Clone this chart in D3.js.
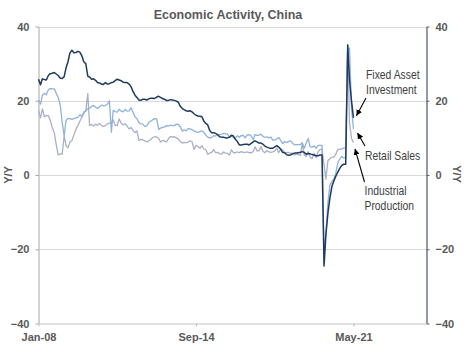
<!DOCTYPE html>
<html><head><meta charset="utf-8">
<script src="https://cdn.jsdelivr.net/npm/d3@7"></script>
<style>body{margin:0;background:#fff} svg{display:block}</style>
</head><body><svg id="c" width="474" height="355"></svg>
<script>
// Monthly Y/Y %, Jan 2008 – May 2021
const startMonth = "2008-01-01";
const fixedAsset = [
 25.8,24.3,25.9,25.7,25.6,26.8,27.3,27.4,27.6,27.2,26.8,26.1,
 26.0,26.5,28.8,30.5,32.9,33.6,32.9,33.0,33.3,33.1,32.1,30.5,
 30.0,26.6,26.4,25.8,25.9,25.5,24.9,24.8,24.5,24.4,24.9,24.5,
 24.6,24.9,25.0,25.4,25.8,25.6,25.4,25.0,24.9,24.9,24.5,23.8,
 22.5,21.5,20.9,20.2,20.1,20.4,20.4,20.2,20.5,20.7,20.7,20.6,
 21.0,21.2,20.9,20.6,20.4,20.1,20.1,20.3,20.2,20.1,19.9,19.6,
 18.5,17.9,17.6,17.3,17.2,17.3,17.0,16.5,16.1,15.9,15.8,15.7,
 14.5,13.9,13.5,12.0,11.4,11.4,11.2,10.9,10.3,10.2,10.2,10.0,
 10.0,10.2,10.7,10.5,9.6,9.0,8.1,8.1,8.2,8.3,8.3,8.1,
 8.5,8.9,9.2,8.9,8.6,8.6,8.3,7.8,7.5,7.3,7.2,7.2,
 7.6,7.9,7.5,7.0,6.1,6.0,5.5,5.3,5.4,5.7,5.9,5.9,
 6.0,6.1,6.3,6.1,5.6,5.8,5.7,5.5,5.4,5.2,5.2,5.4,
 5.4,-24.5,-16.1,-10.3,-6.3,-3.1,-1.6,-0.3,0.8,1.8,2.6,2.9,
 2.9,35.0,25.6,19.9,15.4];
const retailSales = [
 20.2,19.1,21.5,22.0,21.6,23.0,23.3,23.2,23.2,22.0,20.8,19.0,
 14.2,10.6,14.7,15.2,15.2,15.0,15.2,15.4,15.5,16.2,15.8,17.0,
 17.2,17.9,18.0,18.5,18.7,18.3,17.9,18.4,18.8,18.6,18.7,19.1,
 20.0,11.5,17.4,17.1,16.9,17.7,17.2,17.0,17.7,17.2,17.3,18.1,
 16.9,15.6,15.2,14.1,13.8,13.7,13.1,13.2,14.2,14.5,14.9,15.2,
 15.1,12.3,12.6,12.8,12.9,13.3,13.2,13.4,13.3,13.3,13.7,13.6,
 13.0,11.8,12.2,11.9,12.5,12.4,12.2,11.9,11.6,11.5,11.7,11.9,
 11.5,10.7,10.2,10.0,10.1,10.6,10.5,10.8,10.9,11.0,11.2,11.1,
 11.0,10.2,10.5,10.1,10.0,10.6,10.2,10.6,10.7,10.0,10.8,10.9,
 10.5,9.5,10.9,10.7,10.7,11.0,10.4,10.1,10.3,10.0,10.2,9.4,
 9.4,9.7,10.1,9.4,8.5,9.0,8.8,9.0,9.2,8.6,8.1,8.2,
 8.2,8.2,8.7,7.2,8.6,9.8,7.6,7.5,7.8,7.2,8.0,8.0,
 8.0,-20.5,-15.8,-7.5,-2.8,-1.8,-1.1,0.5,3.3,4.3,5.0,4.6,
 4.6,33.8,34.2,17.7,12.4];
const industrialProduction = [
 17.4,15.4,17.8,15.7,16.0,16.0,14.7,12.8,11.4,8.2,5.4,5.7,
 5.6,10.6,8.0,7.3,8.9,9.3,10.8,12.3,13.3,14.5,15.6,16.5,
 17.4,21.9,13.3,13.6,13.2,13.7,13.4,13.9,13.3,13.1,13.3,13.8,
 14.0,14.1,14.8,13.4,13.3,15.1,14.0,13.5,13.8,13.2,12.4,12.8,
 12.0,11.4,11.9,9.3,9.6,9.5,9.2,8.9,9.2,9.6,10.1,10.3,
 10.2,9.9,8.9,9.3,9.2,8.9,9.7,10.4,10.2,10.3,10.0,9.7,
 9.0,8.6,8.8,8.7,8.8,9.2,9.0,6.9,8.0,7.7,7.2,7.9,
 7.0,6.8,5.6,5.9,6.1,6.8,6.0,6.1,5.7,5.6,6.2,5.9,
 5.8,5.4,6.8,6.0,6.0,6.2,6.0,6.3,6.1,6.1,6.2,6.0,
 6.0,6.3,7.6,6.5,6.5,7.6,6.4,6.0,6.6,6.2,6.1,6.2,
 6.5,7.2,6.0,7.0,6.8,6.0,6.0,6.1,5.8,5.9,5.4,5.7,
 5.5,5.3,8.5,5.4,5.0,6.3,4.8,4.4,5.8,4.7,6.2,6.9,
 6.9,null,-1.1,3.9,4.4,4.8,4.8,5.6,6.9,6.9,7.0,7.3,
 7.3,35.1,14.1,9.8,8.8];
const seriesNames = ["Industrial Production","Retail Sales","Fixed Asset Investment"];
const yTicks = [-40,-20,0,20,40];
const xTickLabels = ["Jan-08","Sep-14","May-21"];
const xTickDates = ["2008-01-01","2014-09-01","2021-05-01"];
const xDomain = ["2008-01-01","2024-06-03"];

const svg = d3.select("#c");
const parse = d3.timeParse("%Y-%m-%d");
const start = parse(startMonth);
const x = d3.scaleTime().domain(xDomain.map(parse)).range([38.5, 426.5]);
const y = d3.scaleLinear().domain([-40,40]).range([323.5, 26.5]);
const txt = "#595959";
const font = "'Liberation Sans', Arial, sans-serif";

// gridlines
svg.append("g").selectAll("line").data(yTicks.filter(d=>d>-40)).join("line")
  .attr("x1",38.5).attr("x2",426.5).attr("y1",d=>Math.round(y(d))+0.5).attr("y2",d=>Math.round(y(d))+0.5)
  .attr("stroke","#d9d9d9").attr("stroke-width",1);

function styleAxis(g, lineColor){
  g.select(".domain").attr("stroke",lineColor).attr("stroke-width",1);
  g.selectAll(".tick line").attr("stroke",lineColor);
  g.selectAll(".tick text").attr("fill",txt).attr("font-family",font).attr("font-weight","bold").attr("font-size","11px");
}
const yl = svg.append("g").attr("transform","translate(38.5,0)")
  .call(d3.axisLeft(y).tickValues(yTicks).tickSize(3).tickSizeOuter(0).tickPadding(6));
styleAxis(yl,"#a6a6a6");
const yr = svg.append("g").attr("transform","translate(426.5,0)")
  .call(d3.axisRight(y).tickValues(yTicks).tickSize(3).tickSizeOuter(0).tickPadding(6));
styleAxis(yr,"#5b6378");
yr.select(".domain").attr("stroke-width",1.3);
const xb = svg.append("g").attr("transform","translate(0,323.5)")
  .call(d3.axisBottom(x).tickValues(xTickDates.map(parse)).tickFormat((d,i)=>xTickLabels[i]).tickSize(3).tickSizeOuter(0).tickPadding(7));
styleAxis(xb,"#bfbfbf");

// axis titles
svg.append("text").attr("transform","translate(8,175) rotate(-90)").attr("text-anchor","middle")
  .attr("dominant-baseline","central").attr("fill",txt).attr("font-family",font).attr("font-weight","bold").attr("font-size","11px").text("Y/Y");
svg.append("text").attr("transform","translate(457,174) rotate(90)").attr("text-anchor","middle")
  .attr("dominant-baseline","central").attr("fill",txt).attr("font-family",font).attr("font-weight","bold").attr("font-size","11px").text("Y/Y");

// title
svg.append("text").attr("x",228).attr("y",19).attr("text-anchor","middle").attr("fill",txt)
  .attr("font-family",font).attr("font-weight","bold").attr("font-size","12.5px").text("Economic Activity, China");

// lines
function toPts(arr){ return arr.map((v,i)=>({d:d3.timeMonth.offset(start,i), v})).filter(p=>p.v!==null); }
const line = d3.line().x(p=>x(p.d)).y(p=>y(p.v));
const series = [
  {name:seriesNames[0], data:industrialProduction, color:"#a9b0c8", w:1.3},
  {name:seriesNames[1], data:retailSales, color:"#8fb2dc", w:1.3},
  {name:seriesNames[2], data:fixedAsset, color:"#1f3a60", w:1.5}
];
svg.append("g").selectAll("path").data(series).join("path")
  .attr("d",s=>line(toPts(s.data))).attr("fill","none").attr("stroke",s=>s.color)
  .attr("stroke-width",s=>s.w).attr("stroke-linejoin","round");

// annotations
svg.append("defs").append("marker").attr("id","ah").attr("viewBox","0 0 8 8").attr("refX",8).attr("refY",4)
  .attr("markerWidth",6).attr("markerHeight",6).attr("orient","auto").attr("markerUnits","userSpaceOnUse")
  .append("path").attr("d","M0,0 L8,4 L0,8 z").attr("fill","#000");
function last(arr){ const pts = toPts(arr); return pts[pts.length-1]; }
const notes = [
  {lines:["Fixed Asset","Investment"], tx:366, ty:79, arr:fixedAsset, from:[366,98], off:[3,-2]},
  {lines:["Retail Sales"], tx:365, ty:160, arr:retailSales, from:[365,146], off:[4,4]},
  {lines:["Industrial","Production"], tx:364.5, ty:195, arr:industrialProduction, from:[364.5,182], off:[1.5,6.5]}
];
notes.forEach(n=>{
  const t = svg.append("text").attr("transform",`translate(${n.tx},${n.ty}) scale(0.83,1)`)
    .attr("fill","#404040").attr("font-family",font).attr("font-size","12.5px").attr("font-weight","500");
  n.lines.forEach((l,i)=>t.append("tspan").attr("x",0).attr("y",i*15).text(l));
  const p = last(n.arr);
  svg.append("line").attr("x1",n.from[0]).attr("y1",n.from[1])
    .attr("x2",x(p.d)+n.off[0]).attr("y2",y(p.v)+n.off[1])
    .attr("stroke","#000").attr("stroke-width",1.1).attr("marker-end","url(#ah)");
});
</script></body></html>
